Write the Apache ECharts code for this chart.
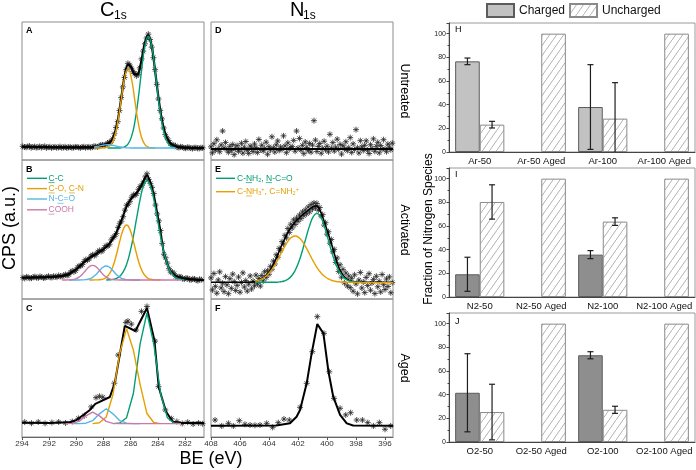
<!DOCTYPE html>
<html><head><meta charset="utf-8">
<script src="https://cdn.jsdelivr.net/npm/echarts@6/dist/echarts.min.js"></script>
<style>html,body{margin:0;padding:0;background:#fff}#c{width:696px;height:470px}</style>
</head><body><div id="c"></div>
<script>
// ---------------- DATA ----------------
const C1s_ticks = [282, 284, 286, 288, 290, 292, 294];
const N1s_ticks = [396, 398, 400, 402, 404, 406, 408];

// Panel A (C1s, untreated)
const A_x   = [288.7,288.45,288.2,287.95,287.7,287.45,287.2,286.95,286.7,286.45,286.2,285.95,285.7,285.45,285.2,284.95,284.7,284.45,284.2,283.95,283.7,283.45,283.2,282.95,282.7];
const A_CC  = ['-','-','-','-',8.7,8.7,8.7,8.7,8.9,9.55,11.5,16.6,27.0,43.8,64.6,82.5,89.7,82.5,64.6,43.8,27.0,16.6,11.5,9.55,8.9];
const A_CO  = [8.7,8.7,8.7,8.8,9.3,11.2,16.5,27.4,43.6,59.4,66.2,59.4,43.6,27.4,16.5,11.2,9.3,8.8,8.7,'-','-','-','-','-','-'];
const A_NCO = [9.3,9.8,10.4,10.9,11.1,10.9,10.4,9.8,9.3,9.0,8.8,8.7,8.7,8.7,8.7,8.7,8.7,8.7,8.7,8.7,8.7,8.7,8.7,8.7,8.7];
const A_fitX = [294,292,290,289.2,288.7,288.45,288.2,287.95,287.7,287.45,287.2,286.95,286.7,286.45,286.2,285.95,285.7,285.45,285.2,284.95,284.7,284.45,284.2,283.95,283.7,283.45,283.2,282.95,282.7,282.45,282,280.6];
const A_fit  = [9.6,9.3,9.1,9.1,9.3,9.8,10.4,11.0,11.7,13.4,18.2,28.5,44.4,60.5,69.1,67.3,62.0,62.5,72.4,85.0,90.3,82.6,64.6,45.0,29.0,19.0,13.5,11.0,10.0,9.3,8.9,8.6];
const A_rawStart = 293.95, A_rawStep = 0.125;
const A_raw = [9.9,9.4,9.2,9.8,10.1,8.9,9.4,9.7,9.0,9.2,
 9.8,9.0,9.5,9.9,8.8,9.3,9.6,8.8,9.2,9.5,
 8.9,9.1,9.7,8.9,9.1,9.6,8.7,9.2,9.5,8.8,
 9.0,9.5,9.4,9.1,8.8,9.4,9.6,8.9,9.3,9.5,
 9.0,9.3,9.9,9.8,9.5,9.9,10.9,10.9,10.6,11.0,
 12.3,12.9,13.0,15.4,19.0,23.6,27.8,35.8,45.2,53.0,
 59.8,65.5,70.0,68.9,66.5,64.0,62.8,61.0,61.9,66.8,
 73.3,78.9,84.2,88.4,91.2,87.3,81.8,74.1,65.5,54.8,
 44.2,36.0,29.8,23.2,18.4,16.0,14.1,11.8,10.6,10.8,
 10.4,9.3,9.0,9.6,9.4,8.7,8.5,9.2,9.0,8.6,
 8.3,8.9,8.9,8.5,8.4,8.9,8.8];

// Panel B (C1s, activated)
const B_x    = [291.05,290.8,290.55,290.3,290.05,289.8,289.55,289.3,289.05,288.8,288.55,288.3,288.05,287.8,287.55,287.3,287.05,286.8,286.55,286.3,286.05,285.8,285.55,285.3,285.05,284.8,284.55,284.3,284.05,283.8,283.55,283.3,283.05,282.8,282.55,282.3,282.05];
const B_CC   = ['-','-','-','-','-','-','-','-','-','-','-','-','-',13.7,13.8,14.1,14.8,16.4,19.5,24.9,33.5,45.1,58.7,71.8,81.5,85.1,81.5,71.8,58.7,45.1,33.5,24.9,19.5,16.4,14.8,14.1,13.8];
const B_CO   = ['-','-','-','-','-','-','-','-',13.7,13.7,13.75,13.85,14.3,15.4,18.2,23.5,31.8,41.6,49.9,53.2,49.9,41.6,31.8,23.5,18.2,15.4,14.3,13.85,13.75,13.7,'-','-','-','-','-','-','-'];
const B_NCO  = ['-','-',13.7,13.7,13.7,13.7,13.76,13.9,14.5,15.6,17.7,20.3,22.7,23.7,22.7,20.3,17.7,15.6,14.5,13.9,13.76,13.7,13.7,13.7,'-','-','-','-','-','-','-','-','-','-','-','-','-'];
const B_COOH = [13.7,13.7,13.76,13.95,14.5,15.7,17.8,20.7,23.2,24.2,23.2,20.7,17.8,15.7,14.5,13.95,13.76,13.7,13.7,13.7,13.7,13.7,13.7,13.7,13.7,13.7,13.7,13.7,13.7,13.7,13.7,13.7,13.7,13.7,13.7,13.7,'-'];
const B_fitX = [294,292.05,291.05,290.55,290.3,290.05,289.8,289.55,289.3,289.05,288.8,288.55,288.3,288.05,287.8,287.55,287.3,287.05,286.8,286.55,286.3,286.05,285.8,285.55,285.3,285.05,284.8,284.55,284.3,284.05,283.8,283.55,283.3,283.05,282.8,282.55,282.3,282.05,281.55,280.6];
const B_fit  = [15.3,15.8,16.5,18,19.5,21,23,25.5,27.5,29.5,31,32.5,34,35.5,37.5,40,43.5,48,53.5,60,66.5,71,74,76.5,80,85,89,84,75,62,48.5,33,25,20,17.5,16,15.2,14.8,14.2,13.5];
const B_rawStart = 294.05, B_rawStep = 0.125;
const B_raw = [15.9,15.4,14.8,15.9,15.6,14.9,15.0,15.7,16.1,15.3,
 15.2,16.2,15.8,15.1,15.3,15.9,16.4,15.6,15.5,16.4,
 16.0,15.7,16.9,16.3,16.2,17.1,17.6,16.9,17.5,19.3,
 20.3,19.6,20.4,22.5,23.8,23.7,24.8,27.0,28.3,28.0,
 28.9,30.9,31.8,31.2,32.0,33.9,34.9,34.2,35.0,37.0,
 38.4,38.1,39.4,42.5,44.3,45.1,47.2,51.5,54.5,56.0,
 59.2,63.9,67.4,68.1,70.3,73.2,75.0,74.6,75.8,78.9,
 81.0,81.8,84.3,87.8,90.1,86.0,83.2,80.3,75.9,67.6,
 61.2,56.2,49.3,40.0,32.2,29.6,25.8,21.8,19.3,19.4,
 18.2,16.2,15.4,16.0,15.8,14.6,14.3,15.0,14.9,14.0,
 13.8,14.5,14.4,13.6,13.2,14.2,13.9];

// Panel C (C1s, aged)
const C_x    = [290.8,290.3,289.8,289.3,288.8,288.3,287.8,287.3,286.8,286.3,285.8,285.3,284.8,284.3,283.8,283.3,282.8,282.3];
const C_CC   = ['-','-','-','-','-','-','-',9.7,10.1,14.0,31.5,67.6,89.9,67.6,31.5,14.0,10.1,9.7];
const C_CO   = ['-','-','-','-',9.7,10.3,14.5,30.8,60.9,78.5,63,38,17,10.5,9.7,'-','-','-'];
const C_NCO  = ['-',9.7,9.7,10.0,11.8,16.8,20.5,16.8,11.8,10.0,9.7,9.7,'-','-','-','-','-','-'];
const C_COOH = [9.7,9.9,11.3,15.3,18.1,15.3,11.3,9.9,9.7,9.7,9.7,9.7,9.7,9.7,9.7,9.7,9.7,9.7];
const C_fitX = [294,292,290.5,289.98,289.0,288.6,287.53,287.16,286.43,285.65,284.8,284.25,283.93,283.4,282.9,282.3,281,280.6];
const C_fit  = [10.4,10.2,10.6,12.3,19.6,24.0,29.0,39.5,80.5,76.8,93.5,70.0,36.0,18.5,11.0,10.2,10.3,10.1];
const C_raw  = [[293.8,10.8],[293.3,10.0],[292.8,10.9],[292.3,9.9],[291.8,10.5],[291.3,10.9],[290.8,10.2],[290.3,11.2],[289.85,13.5],[289.4,15.5],[288.9,21.8],[288.55,28.5],[288.3,29.5],[288.05,28.8],[287.2,39.0],[286.92,59.4],[286.35,83.0],[286.2,84.0],[285.95,81.8],[285.6,77.5],[285.2,91.0],[284.8,94.6],[284.2,69.5],[283.95,36.5],[283.45,19.6],[283.0,13.3],[282.6,11.2],[282.2,9.8],[281.8,10.7],[281.4,9.4],[281.0,10.1],[280.7,9.6]];

// Panel D (N1s, untreated)
const D_fitX = [408, 395.45];
const D_fit  = [8, 8];
const D_rawStart = 408, D_rawStep = 0.1;
const D_raw = [9.5,5.2,11.8,7.1,14.6,8.3,6.0,10.9,21.0,8.8,
 12.7,7.5,5.6,9.9,6.8,11.2,3.9,8.1,10.4,6.3,
 7.9,12.1,5.0,9.2,13.4,7.0,4.8,10.1,8.6,6.1,
 11.6,9.0,5.4,14.9,7.6,10.7,6.6,8.4,12.9,4.2,
 9.6,7.3,16.8,8.9,5.8,11.0,13.8,6.9,9.4,7.8,
 17.5,10.2,5.3,12.4,8.0,9.0,9.7,14.2,6.4,21.0,
 8.7,15.6,7.2,10.6,4.6,13.1,9.1,6.7,12.0,5.7,
 10.8,28.5,14.4,6.2,9.8,11.9,4.9,8.5,13.6,7.4,
 10.0,5.9,18.6,8.6,12.6,6.5,9.3,15.1,7.7,11.3,
 4.3,10.3,8.0,13.2,6.8,9.0,16.2,5.5,11.7,7.6,
 22.0,8.9,5.1,14.0,9.5,6.9,10.6,13.9,7.1,4.7,
 11.1,8.4,15.3,6.3,9.9,12.8,5.2,10.5,7.9,14.7,
 8.1,6.0,11.5,9.2,7.4,12.2];

// Panel E (N1s, activated)
const E_x      = [405.7,405.45,405.2,404.95,404.7,404.45,404.2,403.95,403.7,403.45,403.2,402.95,402.7,402.45,402.2,401.95,401.7,401.45,401.2,400.95,400.7,400.45,400.2,399.95,399.7,399.45,399.2,398.95,398.7,398.45,398.2,397.95,397.7,395.45];
const E_NH2    = ['-','-','-',12.0,12.0,12.0,12.0,12.0,12.05,12.1,12.4,12.95,14.2,16.5,20.5,26.6,34.7,44.0,52.8,59.2,61.6,59.2,52.8,44.0,34.7,26.6,20.5,16.5,14.2,12.95,12.4,12.1,12.0,'-'];
const E_NH3    = ['-','-','-',12.76,13.5,14.7,16.5,19.2,22.8,27.2,32.2,37.1,41.4,44.3,45.3,44.3,41.4,37.1,32.2,27.2,22.8,19.2,16.5,14.7,13.5,12.76,12.37,12.17,12.07,12.0,11.9,11.85,11.8,11.7];
const E_fitX = [408,405.5,405,404.7,404.45,404.2,403.95,403.7,403.45,403.2,402.95,402.7,402.45,402.2,401.95,401.7,401.45,401.2,400.95,400.7,400.45,400.2,399.95,399.7,399.45,399.2,398.95,398.7,398.45,398.2,397.7,395.45];
const E_fit  = [12,12,12.3,13.5,15,17,20,25,30.5,37,42.5,48,52,55.5,58,60.5,62.5,64.5,66.5,67,63,56,48,40,31,23,18,15,13.3,12.6,12.1,12];
const E_rawStart = 408, E_rawStep = 0.1;
const E_raw = [15.2,6.5,18.3,9.1,4.2,13.7,19.5,8.0,11.4,5.3,
 16.1,10.2,3.8,14.6,7.7,17.9,12.5,6.1,9.8,15.8,
 4.9,11.9,18.8,8.6,13.3,5.7,10.7,16.6,7.2,12.9,
 9.5,17.2,11.0,14.8,9.3,16.9,13.0,19.6,15.4,20.4,
 17.8,23.5,21.4,27.3,25.2,31.8,30.0,36.4,35.1,41.3,
 39.6,45.8,44.0,50.7,47.9,53.8,51.1,56.9,53.6,58.2,
 55.9,60.4,57.8,62.6,59.9,64.1,61.3,66.2,62.7,67.9,
 64.8,69.1,65.6,68.7,63.9,65.8,59.6,60.7,53.2,54.9,
 46.6,48.4,40.2,42.8,33.9,35.7,26.3,29.5,19.8,24.6,
 15.7,21.3,11.6,18.7,9.4,16.5,8.2,14.9,5.6,17.4,
 10.9,3.7,13.6,19.1,7.9,12.2,4.6,15.5,9.7,18.2,
 6.3,11.5,14.1,3.9,16.4,8.8,12.7,5.1,17.6,10.3,
 6.8,14.4,9.0,15.9,4.5,11.8];

// Panel F (N1s, aged)
const F_fitX = [408,403.5,402.55,402.1,401.86,401.4,401.06,400.67,400.25,399.9,399.57,399.1,398.64,398.2,395.45];
const F_fit  = [8.2,8.3,10,14.7,19.6,38.9,60.6,81.9,75.1,47.3,29.2,16,9.9,8.3,8.2];
const F_raw  = [[407.72,12.3],[407.26,8.0],[406.8,9.9],[406.46,8.0],[406.05,11.8],[405.66,9.2],[405.31,8.7],[404.97,8.5],[404.62,8.7],[404.16,9.9],[403.75,7.0],[403.36,10.4],[402.97,13.0],[402.6,12.3],[401.86,21.5],[401.4,38.9],[401.01,61.8],[400.67,87.2],[400.21,75.1],[399.84,47.3],[399.52,28.0],[399.1,20.8],[398.71,16.0],[398.37,17.6],[397.95,12.3],[397.56,12.3],[397.19,10.4],[396.8,8.0],[396.39,10.4],[396.0,5.6],[395.61,8.0]];

// Bar panels
const H_cats = ['Ar-50','Ar-50 Aged','Ar-100','Ar-100 Aged'];
const H_charged = [76.6, 0, 38.0, 0];
const H_chargedErr = [2.8, 0, 35.8, 0];
const H_uncharged = [23.1, 100, 28.2, 100];
const H_unchargedErr = [2.8, 0, 30.4, 0];

const I_cats = ['N2-50','N2-50 Aged','N2-100','N2-100 Aged'];
const I_charged = [19.2, 0, 35.8, 0];
const I_chargedErr = [14.4, 0, 3.4, 0];
const I_uncharged = [80.3, 100, 63.7, 100];
const I_unchargedErr = [14.5, 0, 3.2, 0];

const J_cats = ['O2-50','O2-50 Aged','O2-100','O2-100 Aged'];
const J_charged = [41.6, 0, 73.3, 0];
const J_chargedErr = [33, 0, 3, 0];
const J_uncharged = [25.3, 100, 27.2, 100];
const J_unchargedErr = [23.5, 0, 3, 0];

// ---------------- CHART ----------------
const FONT = 'Liberation Sans, Arial, sans-serif';
const GREEN = '#009E73', ORANGE = '#E69F00', BLUE = '#56B4E9', PINK = '#CC79A7';
const chart = echarts.init(document.getElementById('c'), null, {renderer: 'canvas', width: 696, height: 470});

function pairs(xs, ys) { return xs.map((x, i) => [x, ys[i]]); }
function seq(start, step, ys) { return ys.map((y, i) => [+(start - i * step).toFixed(3), y]); }

const STAR = 'path://M5,0L5,10M0,5L10,5M1.5,1.5L8.5,8.5M1.5,8.5L8.5,1.5';
function raw(idx, data, size) {
  return {type: 'scatter', xAxisIndex: idx, yAxisIndex: idx, data, symbol: STAR, symbolSize: size,
    itemStyle: {color: 'rgba(0,0,0,0)', borderColor: '#262626', borderWidth: 0.8, opacity: 1},
    silent: true, z: 1, animation: false};
}
function line(idx, data, color, width, smooth, z) {
  return {type: 'line', xAxisIndex: idx, yAxisIndex: idx, data, symbol: 'none', showSymbol: false,
    smooth: smooth, connectNulls: false, lineStyle: {color, width}, z: z, silent: true, animation: false};
}

const hatch = (function () {
  const c = document.createElement('canvas'); c.width = 7; c.height = 10;
  const g = c.getContext('2d');
  g.fillStyle = '#ffffff'; g.fillRect(0, 0, 7, 10);
  g.strokeStyle = '#a8a8a8'; g.lineWidth = 0.9;
  g.beginPath(); g.moveTo(0, 10); g.lineTo(7, 0); g.stroke();
  return c;
})();

function bars(idx, charged, uncharged, chargedColor) {
  return [
    {name: 'Charged', type: 'bar', xAxisIndex: idx, yAxisIndex: idx,
      data: charged.map(v => v === 0 ? '-' : v), barGap: '0%', barCategoryGap: '20%',
      itemStyle: {color: chargedColor, borderColor: '#5c5c5c', borderWidth: 1}, silent: true, animation: false, z: 2},
    {name: 'Uncharged', type: 'bar', xAxisIndex: idx, yAxisIndex: idx,
      data: uncharged.map(v => v === 0 ? '-' : v), barGap: '0%', barCategoryGap: '20%',
      itemStyle: {color: {image: hatch, repeat: 'repeat'}, borderColor: '#8a8a8a', borderWidth: 1}, silent: true, animation: false, z: 2}
  ];
}
function errBars(idx, vals, errs, side) {
  return {type: 'custom', xAxisIndex: idx, yAxisIndex: idx, encode: {x: 0, y: 1},
    data: vals.map((v, i) => [i, v, errs[i]]), z: 5, silent: true, animation: false,
    renderItem(params, api) {
      const i = api.value(0), v = api.value(1), e = api.value(2);
      if (!e) return null;
      const w = api.size([1, 0])[0];
      const x = api.coord([i, v])[0] + side * 0.2 * w;
      const yTop = api.coord([i, v + e])[1];
      const lo = v - e;
      const yBot = api.coord([i, Math.max(lo, 0)])[1];
      const st = {stroke: '#1e1e1e', lineWidth: 1.2};
      const ch = [
        {type: 'line', shape: {x1: x, y1: yTop, x2: x, y2: yBot}, style: st},
        {type: 'line', shape: {x1: x - 3, y1: yTop, x2: x + 3, y2: yTop}, style: st}
      ];
      if (lo >= 0) ch.push({type: 'line', shape: {x1: x - 3, y1: yBot, x2: x + 3, y2: yBot}, style: st});
      return {type: 'group', children: ch};
    }};
}

const leftGrids = [
  {left: 22, top: 22, width: 182, height: 138}, {left: 22, top: 160, width: 182, height: 139}, {left: 22, top: 299, width: 182, height: 138},
  {left: 211, top: 22, width: 182, height: 138}, {left: 211, top: 160, width: 182, height: 139}, {left: 211, top: 299, width: 182, height: 138}
];
const rightGrids = [
  {left: 449, top: 23, width: 246, height: 129}, {left: 449, top: 168, width: 246, height: 129}, {left: 449, top: 313, width: 246, height: 129}
];
const grid = leftGrids.map(g => Object.assign({show: true, borderColor: '#8c8c8c', borderWidth: 1, containLabel: false}, g))
  .concat(rightGrids.map(g => Object.assign({show: true, borderColor: '#9a9a9a', borderWidth: 1, containLabel: false}, g)));

const xAxis = [], yAxis = [];
for (let i = 0; i < 6; i++) {
  const isC = i < 3, bottom = (i === 2 || i === 5);
  const ticks = isC ? C1s_ticks : N1s_ticks;
  xAxis.push({type: 'value', gridIndex: i, inverse: true,
    min: isC ? 280.6 : 395.45, max: isC ? 294 : 408,
    axisLine: {show: bottom, onZero: false, lineStyle: {color: '#666', width: 1}},
    axisTick: {show: bottom, inside: false, length: 3, customValues: ticks, lineStyle: {color: '#555'}},
    axisLabel: {show: bottom, customValues: ticks, fontSize: 8, color: '#333', margin: 3, fontFamily: FONT},
    splitLine: {show: false}});
  yAxis.push({type: 'value', gridIndex: i, min: 0, max: 100, show: false});
}
const barCats = [H_cats, I_cats, J_cats];
for (let k = 0; k < 3; k++) {
  xAxis.push({type: 'category', gridIndex: 6 + k, data: barCats[k],
    axisLine: {lineStyle: {color: '#444'}}, axisTick: {show: false},
    axisLabel: {interval: 0, fontSize: 9.5, color: '#111', margin: 4, fontFamily: FONT}});
  yAxis.push({type: 'value', gridIndex: 6 + k, min: 0, max: 109, interval: 20,
    axisLine: {show: true, lineStyle: {color: '#444'}},
    axisTick: {show: true, length: 2.5, lineStyle: {color: '#444'}},
    minorTick: {show: true, splitNumber: 2, length: 1.5, lineStyle: {color: '#444'}},
    axisLabel: {fontSize: 7, color: '#222', margin: 3, showMaxLabel: false, fontFamily: FONT},
    splitLine: {show: false}});
}

const series = [
  raw(0, seq(A_rawStart, A_rawStep, A_raw), 6),
  line(0, pairs(A_fitX, A_fit), '#000', 2.2, 0.3, 2),
  line(0, pairs(A_x, A_CC), GREEN, 1.4, true, 3),
  line(0, pairs(A_x, A_CO), ORANGE, 1.4, true, 3),
  line(0, pairs(A_x, A_NCO), BLUE, 1.4, true, 3),
  raw(1, seq(B_rawStart, B_rawStep, B_raw), 6),
  line(1, pairs(B_fitX, B_fit), '#000', 2, 0.3, 2),
  line(1, pairs(B_x, B_CC), GREEN, 1.4, true, 3),
  line(1, pairs(B_x, B_CO), ORANGE, 1.4, true, 3),
  line(1, pairs(B_x, B_NCO), BLUE, 1.4, true, 3),
  line(1, pairs(B_x, B_COOH), PINK, 1.4, true, 3),
  raw(2, C_raw, 6),
  line(2, pairs(C_fitX, C_fit), '#000', 2, false, 2),
  line(2, pairs(C_x, C_CC), GREEN, 1.4, false, 3),
  line(2, pairs(C_x, C_CO), ORANGE, 1.4, false, 3),
  line(2, pairs(C_x, C_NCO), BLUE, 1.4, false, 3),
  line(2, pairs(C_x, C_COOH), PINK, 1.4, false, 3),
  raw(3, seq(D_rawStart, D_rawStep, D_raw), 6),
  line(3, pairs(D_fitX, D_fit), '#000', 2, false, 2),
  raw(4, seq(E_rawStart, E_rawStep, E_raw), 6),
  line(4, pairs(E_fitX, E_fit), '#000', 1.6, 0.3, 2),
  line(4, pairs(E_x, E_NH2), GREEN, 1.4, true, 3),
  line(4, pairs(E_x, E_NH3), ORANGE, 1.4, true, 3),
  raw(5, F_raw, 6),
  line(5, pairs(F_fitX, F_fit), '#000', 2, false, 2)
].concat(
  bars(6, H_charged, H_uncharged, '#c2c2c2'),
  [errBars(6, H_charged, H_chargedErr, -1), errBars(6, H_uncharged, H_unchargedErr, 1)],
  bars(7, I_charged, I_uncharged, '#8e8e8e'),
  [errBars(7, I_charged, I_chargedErr, -1), errBars(7, I_uncharged, I_unchargedErr, 1)],
  bars(8, J_charged, J_uncharged, '#8e8e8e'),
  [errBars(8, J_charged, J_chargedErr, -1), errBars(8, J_uncharged, J_unchargedErr, 1)]
);

function T(x, y, text, size, o) {
  o = o || {};
  return {type: 'text', x, y, rotation: o.rot || 0, silent: true, z: 100,
    style: {text, fontSize: size, fontFamily: FONT, fontWeight: o.bold ? 'bold' : 'normal',
      fill: o.color || '#000', align: o.align || 'left', verticalAlign: o.va || 'middle', rich: o.rich}};
}
function L(x1, y1, x2, y2, color, w) {
  return {type: 'line', silent: true, z: 100, shape: {x1, y1, x2, y2}, style: {stroke: color, lineWidth: w || 1}};
}
const FS = 8.5, cw = FS * 0.722;
const graphic = [
  T(100, 10, 'C', 20), T(114, 16, '1s', 12),
  T(290, 10, 'N', 20), T(303, 16, '1s', 12),
  T(211, 459, 'BE (eV)', 18, {align: 'center'}),
  T(10, 228, 'CPS (a.u.)', 18, {align: 'center', rot: Math.PI / 2}),
  T(404, 91, 'Untreated', 12.5, {align: 'center', rot: -Math.PI / 2}),
  T(404, 230, 'Activated', 12.5, {align: 'center', rot: -Math.PI / 2}),
  T(404, 368, 'Aged', 12.5, {align: 'center', rot: -Math.PI / 2}),
  T(429, 229, 'Fraction of Nitrogen Species', 12, {align: 'center', rot: Math.PI / 2}),
  T(26, 31, 'A', 9, {bold: true}), T(26, 169.5, 'B', 9, {bold: true}), T(26, 308.5, 'C', 9, {bold: true}),
  T(215, 31, 'D', 9, {bold: true}), T(215, 169.5, 'E', 9, {bold: true}), T(215, 308.5, 'F', 9, {bold: true}),
  T(455, 30, 'H', 9), T(455, 175, 'I', 9), T(455, 321.5, 'J', 9),
  L(27, 178.3, 47, 178.3, GREEN, 1.4), T(48.5, 178.3, 'C-C', FS, {color: GREEN}), L(48.5, 182.6, 48.5 + cw, 182.6, GREEN, 0.7),
  L(27, 188.6, 47, 188.6, ORANGE, 1.4), T(48.5, 188.6, 'C-O, C-N', FS, {color: ORANGE}),
  L(48.5, 192.9, 48.5 + cw, 192.9, ORANGE, 0.7), L(68.8, 192.9, 68.8 + cw, 192.9, ORANGE, 0.7),
  L(27, 199, 47, 199, BLUE, 1.4), T(48.5, 199, 'N-C=O', FS, {color: BLUE}), L(57.5, 203.3, 57.5 + cw, 203.3, BLUE, 0.7),
  L(27, 209.8, 47, 209.8, PINK, 1.4), T(48.5, 209.8, 'COOH', FS, {color: PINK}), L(48.5, 214.1, 48.5 + cw, 214.1, PINK, 0.7),
  L(216, 178.3, 235, 178.3, GREEN, 1.4),
  T(237, 178.3, '{t|C-NH}{s|2}{t|, N-C=O}', FS, {color: GREEN, rich: {
    t: {fontSize: FS, fontFamily: FONT, fill: GREEN, lineHeight: 10},
    s: {fontSize: 5.5, fontFamily: FONT, fill: GREEN, lineHeight: 5, verticalAlign: 'bottom'}}}),
  L(245.9, 182.6, 245.9 + cw, 182.6, GREEN, 0.7), L(265.9, 182.6, 265.9 + cw, 182.6, GREEN, 0.7),
  L(216, 191.7, 235, 191.7, ORANGE, 1.4),
  T(237, 191.7, '{t|C-NH}{s|3}{p|+}{t|, C=NH}{s|2}{p|+}', FS, {color: ORANGE, rich: {
    t: {fontSize: FS, fontFamily: FONT, fill: ORANGE, lineHeight: 10},
    s: {fontSize: 5.5, fontFamily: FONT, fill: ORANGE, lineHeight: 5, verticalAlign: 'bottom'},
    p: {fontSize: 5.5, fontFamily: FONT, fill: ORANGE, lineHeight: 5, verticalAlign: 'top'}}}),
  L(245.9, 196, 245.9 + cw, 196, ORANGE, 0.7)
];

chart.setOption({
  animation: false,
  textStyle: {fontFamily: FONT},
  legend: {data: ['Charged', 'Uncharged'], left: 486, top: 3, padding: 0, itemWidth: 27, itemHeight: 13, itemGap: 4,
    icon: 'rect', selectedMode: false, textStyle: {fontSize: 12, color: '#111', fontFamily: FONT}},
  grid, xAxis, yAxis, series, graphic
});
</script></body></html>
